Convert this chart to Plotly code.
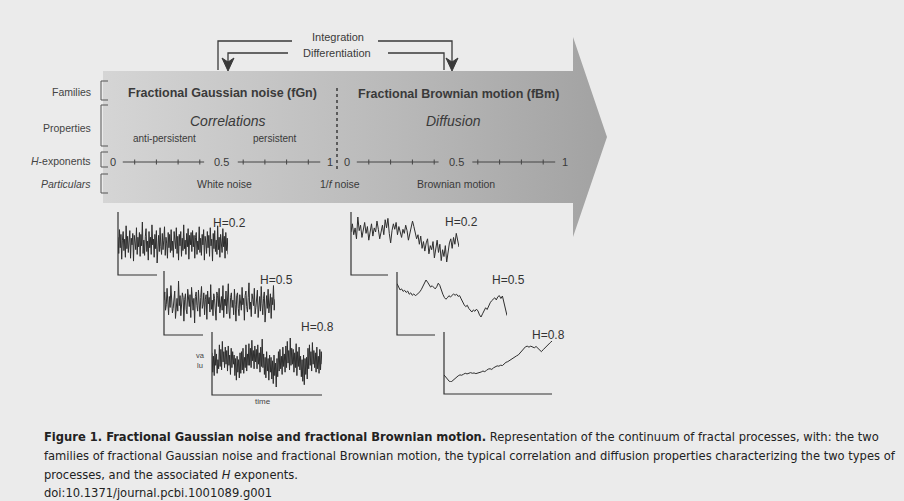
import plotly.graph_objects as go

W, H = 904, 501

# ---------------- data ----------------
fgn_h02 = [0.6,-1.1,1.4,-0.5,0.9,-1.7,0.3,1.2,-0.8,0.4,-1.5,1.8,-0.6,0.7,-1.0,0.2,1.3,-1.6,0.5,-0.2,
           1.0,-1.9,0.8,0.1,-0.7,1.6,-1.2,0.6,-0.4,1.1,-1.4,0.9,-0.3,2.2,-1.1,0.3,-1.3,0.7,1.5,-0.9,
           0.2,-1.8,1.2,-0.5,0.6,-1.2,1.9,-0.2,0.4,-1.5,0.9,-0.6,1.3,-2.1,0.5,0.8,-0.9,1.6,-0.4,-1.2,
           1.0,-0.7,0.3,1.7,-1.3,0.6,-0.1,-1.6,1.1,-0.5,0.9,-1.0,1.4,-0.8,0.2,-1.5,1.2,0.4,-0.6,1.6,
           -1.1,0.7,-1.8,0.9,-0.3,1.2,-1.4,0.5,-0.8,1.9,-0.6,0.3,-1.2,1.0,-0.4,1.5,-1.7,0.8,-0.2,1.1,
           -0.9,1.3,-0.4,0.8,-1.6,0.6,1.1,-1.2,0.2,-0.7,1.7,-1.0,0.5,-1.3,0.9,-0.2,1.4,-1.8,0.7,0.1,
           -1.1,1.2,-0.5,0.8,-1.4,1.6,-0.3,0.4,-1.9,1.0,-0.6,1.3,-0.9,0.3,-1.2,1.8,-0.7,0.6,-1.5,0.9,
           0.2,-1.0,1.5,-0.4,0.7,-1.6,1.1,-0.8,0.5,-1.2]
fgn_h05 = [0.3,1.2,-0.8,-0.2,1.6,0.4,-1.3,0.7,-0.5,1.9,0.1,-1.1,-0.6,0.9,1.3,-1.7,0.2,0.5,-0.9,2.4,
           -0.3,0.8,-1.4,-0.1,1.1,0.6,-2.0,0.4,1.0,-0.7,-1.2,1.5,0.2,-0.4,0.9,-1.6,1.7,0.3,-0.8,0.5,
           -2.2,0.7,1.2,-0.3,-0.9,1.4,0.1,-1.5,0.6,1.8,-0.6,-0.2,1.1,-1.3,0.4,0.9,-1.8,1.3,-0.1,0.6,
           -1.0,2.0,-0.7,0.3,-1.4,1.0,0.5,-0.5,-1.9,1.2,0.8,-0.4,1.6,-1.1,0.2,0.7,-0.8,1.9,-1.6,0.4,
           -0.3,1.3,-1.2,0.9,2.1,-0.9,-1.7,0.6,1.1,-0.5,0.3,-1.3,1.5,-0.2,-2.0,0.8,
           1.1,-0.6,-1.4,0.9,0.3,-0.8,1.7,-0.2,0.5,-1.9,0.8,1.3,-0.4,-1.0,0.6,2.2,-0.7,0.1,-1.5,1.0,
           0.4,-0.3,1.6,-1.2,-0.5,0.9,1.4,-1.6,0.2,0.7,-0.9,1.8,-0.1,-1.3,0.5,1.2,-2.1,0.3,0.8,-0.6,
           1.5,-1.1,0.0,1.0,-1.7,0.6,-0.2,1.9,-0.8,0.4]
fgn_h08 = [0.8,-0.9,0.5,-1.2,1.1,-0.3,0.7,-1.0,0.2,-0.6,
           1.5,-0.4,1.1,-0.7,1.8,0.0,0.9,-0.5,1.3,-0.2,
           1.0,-0.8,1.4,-0.3,0.6,-1.1,1.2,-0.5,0.9,-0.2,
           0.6,-1.2,0.3,-1.6,0.5,-0.9,0.2,-1.4,0.8,-1.0,
           0.9,-0.7,1.2,-1.0,0.4,-0.5,1.5,-0.8,0.7,-0.3,
           1.6,-0.3,1.2,-0.5,1.9,0.1,1.0,-0.6,1.4,0.0,
           1.1,-0.6,1.5,-0.2,0.8,-0.9,1.3,-0.4,2.0,-0.5,
           0.7,-1.1,0.4,-1.4,0.9,-0.8,0.3,-1.6,0.6,-0.9,
           0.4,-1.5,0.1,-1.9,0.6,-1.2,-0.1,-2.2,0.3,-1.3,
           0.9,-0.8,1.1,-0.6,0.5,-1.1,1.3,-0.4,0.7,-0.9,
           1.4,-0.5,1.8,-0.1,1.0,-0.7,2.1,-0.3,1.2,-0.2,
           1.1,-0.9,0.8,-0.5,1.6,-1.2,0.9,-0.4,1.3,-0.7,
           0.5,-1.3,0.2,-1.7,0.6,-2.0,0.3,-1.1,0.4,-1.5,
           1.2,-0.6,1.5,-0.3,0.9,-0.8,1.7,-0.2,1.0,-0.5,
           0.8,-0.9,1.3,-0.6,0.5,-1.0,1.1,-0.7,0.9,-0.2]
fbm_h02 = [0.3,0.9,0.1,0.6,-0.2,1.4,0.4,0.8,-0.1,0.5,1.0,0.2,0.7,-0.3,0.4,0.9,0.0,0.6,0.3,1.1,
           0.5,-0.2,0.3,0.8,0.1,1.2,0.6,1.3,0.2,-0.5,0.4,0.9,0.5,1.0,0.1,0.7,0.3,-0.1,0.5,0.2,
           0.8,0.4,-0.3,0.2,0.6,1.1,0.7,0.2,-0.2,0.1,-0.6,0.0,-0.9,-0.4,-1.1,-0.5,-0.2,-1.3,-0.7,-1.0,
           -0.4,-1.6,-0.9,-0.3,-1.2,-0.6,-1.8,-1.0,-1.5,-0.7,-1.9,-1.2,-0.5,-0.2,-0.9,-0.1,-0.6,0.2,-0.4,-0.8]
fbm_h05 = [2.4,1.2,0.6,0.9,0.2,0.5,-0.1,0.3,-0.6,-0.2,-0.9,-0.5,-1.0,-0.7,-0.4,0.1,0.8,1.6,2.4,3.4,
           2.8,2.1,1.4,1.8,1.2,0.9,1.5,2.5,1.9,0.4,-0.6,-1.5,-2.0,-1.6,-1.0,-1.4,-0.8,-0.5,-0.9,-0.6,
           -1.2,-1.0,-1.9,-2.8,-3.6,-4.1,-3.7,-4.6,-5.2,-5.6,-5.0,-5.4,-4.8,-5.3,-6.4,-7.0,-6.1,-5.2,-4.4,-4.9,
           -3.8,-3.0,-2.4,-2.1,-1.6,-2.2,-1.3,-1.0,-1.8,-1.1,-3.2,-5.0,-6.6]
fbm_h08 = [0.1,-0.5,-1.2,-1.9,-2.1,-1.6,-1.0,-0.6,-0.2,0.1,0.0,0.3,0.6,0.4,0.5,0.8,0.6,0.7,0.5,0.6,
           0.9,1.0,1.3,1.1,1.5,1.9,2.0,1.8,2.3,2.7,2.9,2.8,3.1,3.0,3.6,4.0,4.2,4.6,5.0,5.2,
           5.6,6.0,6.3,7.0,7.7,8.3,8.8,9.0,8.7,9.0,8.8,8.5,8.9,8.3,7.6,7.3,7.9,8.5,9.2,9.6,10.1,10.6]

h_labels = ["0", "0.5", "1"]
h_label_vals = [0.0, 0.5, 1.0]
h_minor_ticks = [0.1, 0.2, 0.3, 0.4, 0.6, 0.7, 0.8, 0.9]
row_labels = ["Families", "Properties", "<i>H</i>-exponents", "<i>Particulars</i>"]
panel_labels = ["H=0.2", "H=0.5", "H=0.8"]

# ---------------- layout constants (pixels) ----------------
INK = "#3a3a3a"
BG = "#ebebeb"
FONT = "Liberation Sans, Arial, sans-serif"

fig = go.Figure()

fig.update_layout(
    width=W, height=H, margin=dict(l=0, r=0, t=0, b=0),
    paper_bgcolor=BG, plot_bgcolor=BG, showlegend=False,
    xaxis=dict(range=[0, W], domain=[0, 1], visible=False, fixedrange=True),
    yaxis=dict(range=[H, 0], domain=[0, 1], visible=False, fixedrange=True),
)

# big gradient arrow
arrow_x = [103, 573, 573, 607, 573, 573, 103, 103]
arrow_y = [71, 71, 37, 137, 237, 203, 203, 71]
fig.add_trace(go.Scatter(
    x=arrow_x, y=arrow_y, mode="lines", fill="toself", line=dict(width=0, color="rgba(0,0,0,0)"),
    fillgradient=dict(type="horizontal", colorscale=[[0, "#d5d5d5"], [0.6, "#b8b8b8"], [1, "#a2a2a2"]]),
    hoverinfo="skip", xaxis="x", yaxis="y"))

shapes = []
ann = []

def text(x, y, s, size=11, anchor="center", color=INK, family=FONT):
    ann.append(dict(x=x, y=y, xref="x", yref="y", text=s, showarrow=False, xanchor=anchor,
                    yanchor="middle", font=dict(size=size, color=color, family=family)))

row_y = [92, 128, 161, 184]
row_br = [(81, 100), (105, 146), (152, 167), (174, 193)]
for lab, yy, (b0, b1) in zip(row_labels, row_y, row_br):
    text(93, yy, lab, size=10.5, anchor="right", color="#444")
    shapes.append(dict(type="path", xref="x", yref="y",
                       path=f"M 108,{b0} L 101,{b0} L 101,{b1} L 108,{b1}",
                       line=dict(color="#555", width=1)))

text(222, 93, "<b>Fractional Gaussian noise (fGn)</b>", size=12.5)
text(458, 94, "<b>Fractional Brownian motion (fBm)</b>", size=12.5)
text(227, 121, "<i>Correlations</i>", size=14)
text(164, 138, "anti-persistent", size=10)
text(275, 138, "persistent", size=10)
text(453, 121, "<i>Diffusion</i>", size=14)

for x0, x1 in [(113, 330), (347, 565)]:
    def hx(h):
        return x0 + h * (x1 - x0)
    for lab, v in zip(h_labels, h_label_vals):
        text(hx(v), 162, lab, size=11)
    for a, b in [(0.045, 0.42), (0.575, 0.955)]:
        shapes.append(dict(type="line", xref="x", yref="y", x0=hx(a), x1=hx(b), y0=162, y1=162,
                           line=dict(color="#444", width=1)))
    for t in h_minor_ticks:
        shapes.append(dict(type="line", xref="x", yref="y", x0=hx(t), x1=hx(t), y0=159.5, y1=164.5,
                           line=dict(color="#444", width=1)))

shapes.append(dict(type="line", xref="x", yref="y", x0=337, x1=337, y0=88, y1=171,
                   line=dict(color="#444", width=1.6, dash="dot")))

text(224, 184, "White noise", size=10.5)
text(340, 184, "1/<i>f</i> noise", size=10.5)
text(456, 184, "Brownian motion", size=10.5)

text(338, 37, "Integration", size=11)
text(337, 53, "Differentiation", size=11)
lw = dict(color=INK, width=1.3)
shapes.append(dict(type="path", xref="x", yref="y", path="M 292,41 L 218,41 L 218,70", line=lw))
shapes.append(dict(type="path", xref="x", yref="y", path="M 288,53 L 228,53 L 228,64", line=lw))
shapes.append(dict(type="path", xref="x", yref="y", path="M 378,41 L 452,41 L 452,64", line=lw))
shapes.append(dict(type="path", xref="x", yref="y", path="M 388,53 L 444,53 L 444,70", line=lw))
for cx in (228, 452):
    shapes.append(dict(type="path", xref="x", yref="y",
                       path=f"M {cx-6},{58} L {cx},{71} L {cx+6},{58} L {cx},{62} Z",
                       fillcolor=INK, line=dict(color=INK, width=1)))

# ---------------- time-series panels ----------------
panels = [
    (fgn_h02, (118, 228, 222, 263), (118, 212, 275, 157), (211, 223), panel_labels[0]),
    (fgn_h05, (164, 275, 281, 323), (164, 271, 335, 203), (258, 280), panel_labels[1]),
    (fgn_h08, (212, 322, 338, 387), (212, 332, 395, 322), (299, 327), panel_labels[2]),
    (fbm_h02, (351, 459, 217, 262), (351, 212, 275, 388), (443, 222), panel_labels[0]),
    (fbm_h05, (397, 507, 280, 317), (397, 272, 335, 435), (490, 280), panel_labels[1]),
    (fbm_h08, (444, 552, 341, 382), (444, 332, 394, 552), (530, 335), panel_labels[2]),
]
for i, (ser, (bx0, bx1, by0, by1), (vx, vtop, hy, hx1), (lx, ly), lab) in enumerate(panels):
    k = i + 2
    xa, ya = f"xaxis{k}", f"yaxis{k}"
    fig.update_layout(**{
        xa: dict(domain=[bx0 / W, bx1 / W], range=[0, len(ser) - 1], anchor=f"y{k}",
                 visible=False, fixedrange=True),
        ya: dict(domain=[1 - by1 / H, 1 - by0 / H], range=[min(ser), max(ser)], anchor=f"x{k}",
                 visible=False, fixedrange=True),
    })
    fig.add_trace(go.Scatter(x=list(range(len(ser))), y=ser, mode="lines",
                             line=dict(color="#2e2e2e", width=1.0), xaxis=f"x{k}", yaxis=f"y{k}",
                             hoverinfo="skip"))
    shapes.append(dict(type="path", xref="x", yref="y",
                       path=f"M {vx},{vtop} L {vx},{hy} L {hx1},{hy}",
                       line=dict(color="#333", width=1.2)))
    ann.append(dict(x=lx, y=ly, xref="x", yref="y", text=lab, showarrow=False, xanchor="left",
                    yanchor="middle", font=dict(size=12, color="#333", family=FONT)))

text(200, 355, "va", size=7.5, color="#444")
text(200, 365, "lu", size=7.5, color="#444")
text(263, 401, "time", size=8, color="#444")

# ---------------- caption ----------------
CAP = "Liberation Sans Narrow, Arial Narrow, DejaVu Sans Condensed, sans-serif"
cap_lines = [
    "<b>Figure 1. Fractional Gaussian noise and fractional Brownian motion.</b> Representation of the continuum of fractal processes, with: the two",
    "families of fractional Gaussian noise and fractional Brownian motion, the typical correlation and diffusion properties characterizing the two types of",
    "processes, and the associated <i>H</i> exponents.",
    "doi:10.1371/journal.pcbi.1001089.g001",
]
for s, yy in zip(cap_lines, [436, 455, 474, 492]):
    ann.append(dict(x=42, y=yy, xref="x", yref="y", text=s, showarrow=False, xanchor="left",
                    yanchor="middle", font=dict(size=12.8, color="#222", family=CAP)))

fig.update_layout(shapes=shapes, annotations=ann)
fig.write_html("out.html", config={"displayModeBar": False},
               post_script="document.body.style.margin='0px';document.body.style.background='#ebebeb';")
